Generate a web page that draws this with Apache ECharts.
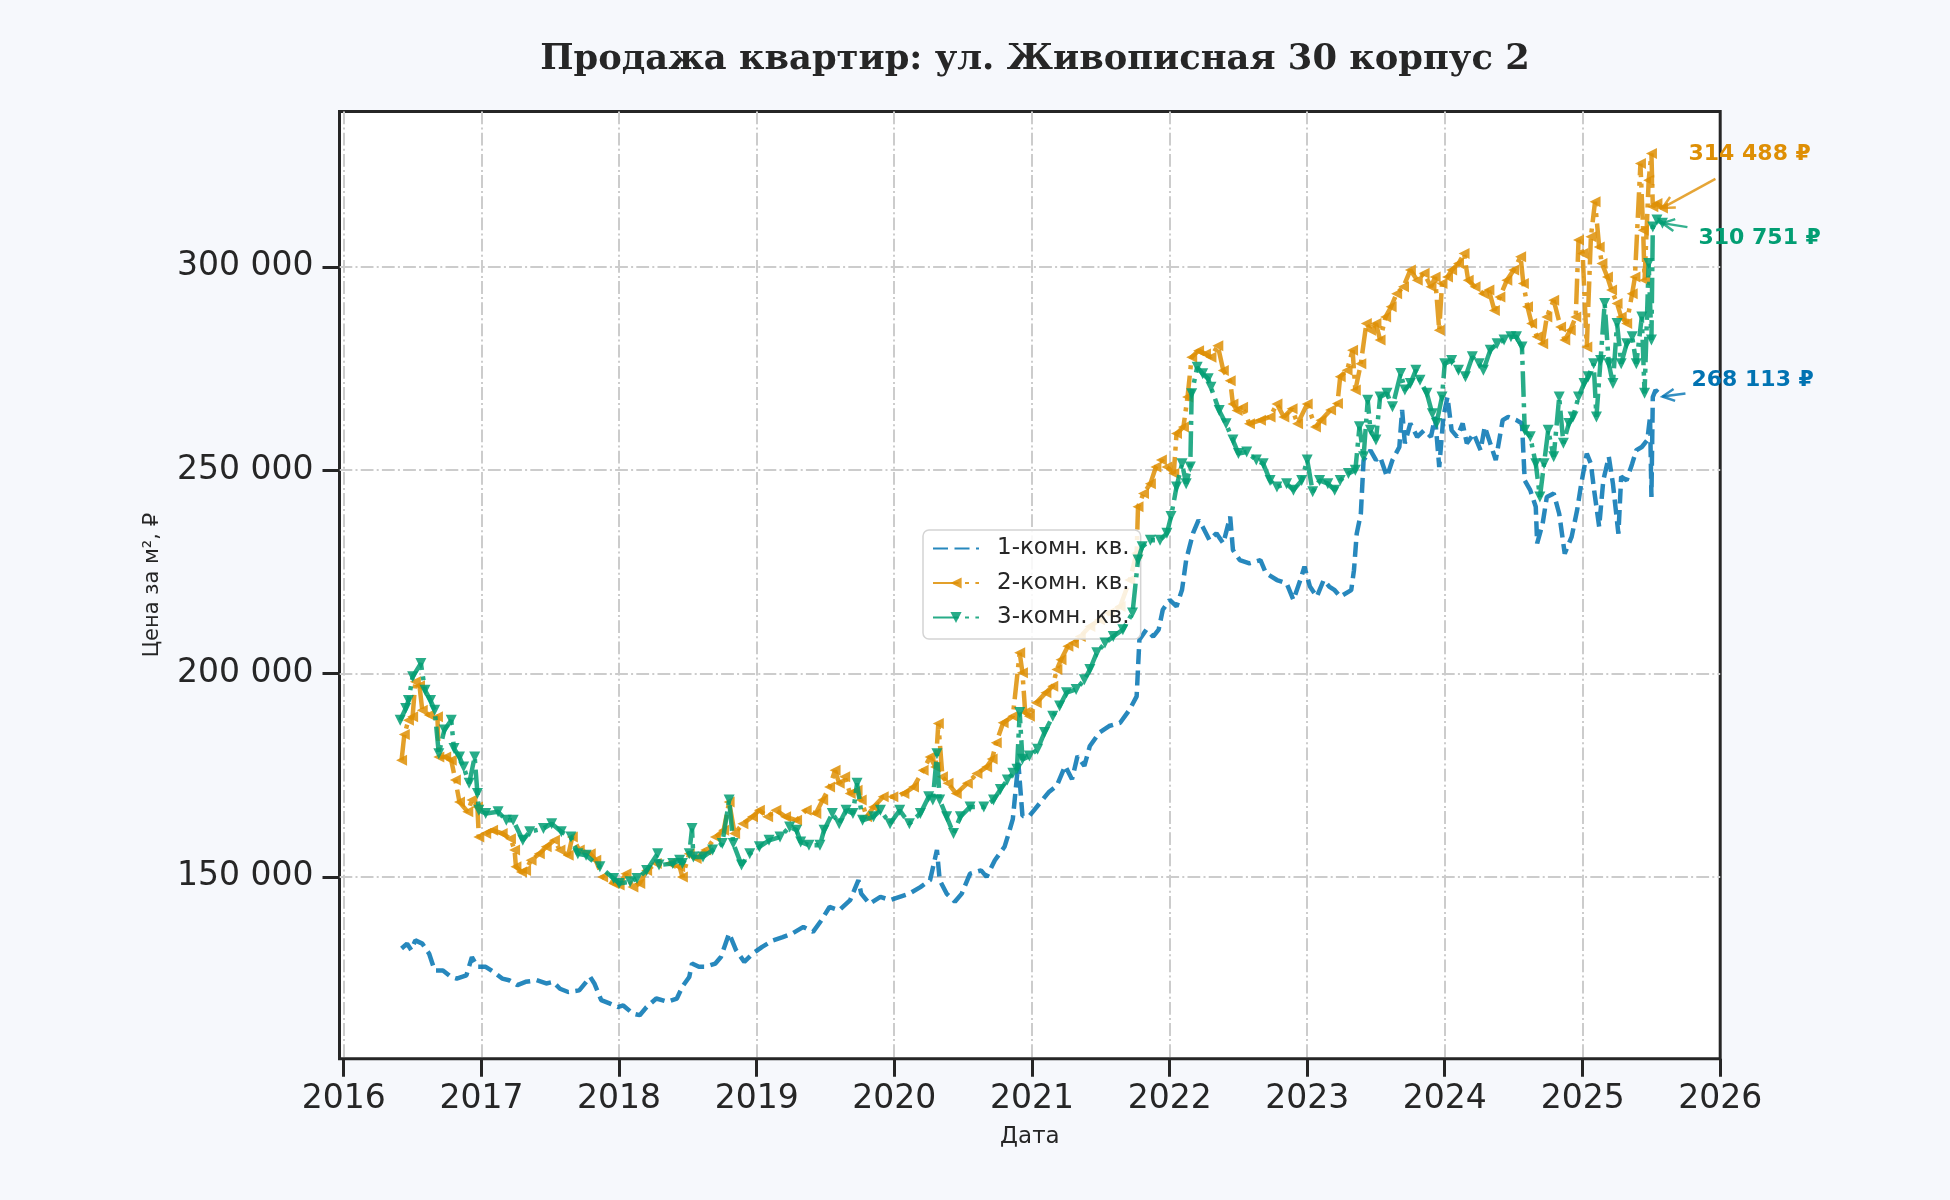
<!DOCTYPE html>
<html>
<head>
<meta charset="utf-8">
<script src="https://cdn.jsdelivr.net/npm/echarts@6/dist/echarts.min.js"></script>
<style>
html,body{margin:0;padding:0;background:#f6f8fc;}
#c{width:1950px;height:1200px;}
</style>
</head>
<body>
<div id="c"></div>
<script>
// ---- data (dates as decimal years, values in ₽ per m²) ----
const seriesNames = ['1-комн. кв.', '2-комн. кв.', '3-комн. кв.'];
const xTickYears = [2016, 2017, 2018, 2019, 2020, 2021, 2022, 2023, 2024, 2025, 2026];
const yTicks = [150000, 200000, 250000, 300000];

const dates1 = [2016.42,2016.46,2016.49,2016.52,2016.57,2016.62,2016.66,2016.72,2016.78,2016.82,2016.89,2016.93,2016.97,2017.03,2017.09,2017.15,2017.20,2017.26,2017.32,2017.40,2017.47,2017.52,2017.57,2017.63,2017.71,2017.79,2017.82,2017.87,2017.93,2017.99,2018.03,2018.10,2018.15,2018.20,2018.27,2018.35,2018.42,2018.46,2018.51,2018.53,2018.58,2018.63,2018.70,2018.74,2018.80,2018.85,2018.91,2018.97,2019.04,2019.12,2019.19,2019.26,2019.34,2019.41,2019.47,2019.53,2019.60,2019.68,2019.74,2019.76,2019.82,2019.90,2019.97,2020.04,2020.11,2020.19,2020.26,2020.31,2020.33,2020.38,2020.44,2020.49,2020.55,2020.63,2020.67,2020.73,2020.80,2020.83,2020.86,2020.90,2020.93,2020.98,2021.06,2021.12,2021.18,2021.24,2021.29,2021.33,2021.38,2021.42,2021.49,2021.56,2021.64,2021.71,2021.76,2021.78,2021.83,2021.88,2021.92,2021.95,2022.00,2022.05,2022.09,2022.12,2022.17,2022.21,2022.24,2022.29,2022.34,2022.39,2022.44,2022.46,2022.51,2022.58,2022.66,2022.70,2022.78,2022.85,2022.90,2022.95,2022.98,2023.02,2023.07,2023.12,2023.16,2023.20,2023.24,2023.32,2023.34,2023.36,2023.39,2023.41,2023.46,2023.50,2023.53,2023.58,2023.62,2023.67,2023.69,2023.71,2023.75,2023.80,2023.85,2023.90,2023.93,2023.96,2023.99,2024.02,2024.05,2024.09,2024.13,2024.16,2024.21,2024.26,2024.29,2024.33,2024.37,2024.42,2024.46,2024.52,2024.56,2024.58,2024.62,2024.66,2024.67,2024.71,2024.74,2024.79,2024.83,2024.87,2024.92,2024.96,2024.99,2025.03,2025.06,2025.08,2025.12,2025.15,2025.19,2025.22,2025.26,2025.28,2025.32,2025.36,2025.39,2025.43,2025.47,2025.49,2025.50,2025.51,2025.53,2025.58];
const values1 = [132400,133600,132000,134400,133600,131100,127000,127000,125400,125000,125800,130300,127900,127900,126600,125000,124600,123400,124200,124600,123800,124200,122500,121700,122100,125400,123800,119700,118900,118000,118400,116400,116000,118000,120100,119300,120100,123000,125400,128700,127900,127900,128700,130300,136100,132000,129100,131100,132800,134400,135200,136100,137700,136500,139300,142600,141800,144300,149200,145900,143400,145100,144300,145100,145900,147500,149200,156600,149200,145900,143900,145900,150800,151600,150000,154100,157400,160700,164200,178100,165000,165000,168300,170800,172400,177300,174000,179700,177300,182200,185500,187100,187900,191200,194400,208300,210800,209100,210800,215700,218100,216500,220600,227900,234500,237700,236100,232800,234500,232000,238600,230400,227900,227100,227900,224700,223000,222200,218100,223000,226300,221400,218900,223000,221400,220500,218900,220500,225400,234400,239300,252500,254900,252500,253300,248400,252500,255700,264800,256600,261500,258200,259800,258200,263100,250800,263100,268000,259800,258200,261500,256600,259000,254900,260700,256600,252500,262300,263100,262300,261500,247500,245100,241000,232000,236900,243400,244300,239300,229500,233600,240200,246700,254100,251600,245900,236100,247500,253300,246700,234400,248400,247500,251600,254900,255700,257400,263100,243400,268000,269700,268113];

const dates2 = [2016.42,2016.44,2016.47,2016.50,2016.52,2016.55,2016.57,2016.62,2016.68,2016.69,2016.74,2016.78,2016.81,2016.84,2016.90,2016.93,2016.97,2016.98,2017.03,2017.08,2017.15,2017.21,2017.24,2017.25,2017.29,2017.32,2017.36,2017.42,2017.47,2017.53,2017.57,2017.63,2017.66,2017.71,2017.79,2017.83,2017.88,2017.96,2018.00,2018.05,2018.10,2018.15,2018.20,2018.27,2018.37,2018.44,2018.46,2018.51,2018.56,2018.63,2018.70,2018.76,2018.80,2018.84,2018.90,2018.97,2019.02,2019.08,2019.14,2019.21,2019.29,2019.36,2019.43,2019.48,2019.53,2019.57,2019.60,2019.64,2019.68,2019.73,2019.76,2019.80,2019.85,2019.92,2019.99,2020.07,2020.14,2020.21,2020.26,2020.30,2020.32,2020.35,2020.39,2020.45,2020.53,2020.60,2020.67,2020.71,2020.74,2020.79,2020.86,2020.91,2020.93,2020.95,2020.98,2021.03,2021.10,2021.15,2021.18,2021.21,2021.26,2021.30,2021.35,2021.42,2021.49,2021.56,2021.64,2021.71,2021.76,2021.77,2021.81,2021.86,2021.90,2021.94,2021.98,2022.03,2022.05,2022.10,2022.13,2022.16,2022.21,2022.26,2022.30,2022.35,2022.39,2022.44,2022.46,2022.49,2022.53,2022.58,2022.66,2022.73,2022.78,2022.83,2022.89,2022.93,2023.00,2023.06,2023.10,2023.17,2023.22,2023.24,2023.29,2023.33,2023.35,2023.39,2023.43,2023.46,2023.50,2023.53,2023.57,2023.61,2023.65,2023.70,2023.75,2023.80,2023.85,2023.90,2023.93,2023.96,2023.98,2024.02,2024.05,2024.10,2024.14,2024.17,2024.22,2024.28,2024.32,2024.36,2024.40,2024.45,2024.50,2024.55,2024.57,2024.60,2024.63,2024.67,2024.71,2024.74,2024.79,2024.84,2024.87,2024.91,2024.95,2024.97,2025.00,2025.03,2025.06,2025.09,2025.12,2025.14,2025.18,2025.21,2025.25,2025.28,2025.32,2025.36,2025.38,2025.42,2025.44,2025.45,2025.48,2025.50,2025.51,2025.54,2025.58];
const values2 = [178700,185000,188500,189400,198000,197000,191000,189800,189400,179500,179500,178700,173800,168400,166000,168900,167200,159800,160700,161500,160700,159400,156600,152500,151200,151600,154100,155700,157400,159000,156600,155300,159800,156600,155700,154100,150000,148400,148000,150800,147500,148400,151600,153300,153300,152500,150000,155700,154500,156600,159800,161500,168400,160700,163100,164800,166400,164800,166400,164800,163900,166400,165600,168900,172100,176200,173000,174600,170500,171300,168900,164800,167200,169700,169700,170500,172100,176200,179500,177000,187700,174600,173000,170500,173000,175400,177000,179000,183000,187900,189500,205100,200200,190400,189500,192800,195300,196900,201000,203400,206700,207500,209100,211600,213200,214900,216500,223000,229600,241000,244300,246700,250800,252500,250800,249200,259000,260600,268000,277800,279400,278600,277800,280600,274500,272000,266300,264700,265500,261400,262300,263100,266300,263100,265100,261400,266300,260600,262300,264800,266400,273000,274600,279500,269700,276200,286100,284400,286100,282000,287700,290200,293400,295100,299200,296700,298400,295100,297500,284400,295900,297500,299200,300800,303300,296700,295100,293400,294300,289300,292600,296700,299200,302500,295900,290200,286100,282800,281100,287700,291800,285200,282000,284400,287700,306600,303300,280300,307400,316000,304900,300800,297500,294300,291000,287700,286100,293400,297500,325400,309000,296700,321300,327900,314800,315600,314488];

const dates3 = [2016.41,2016.45,2016.47,2016.50,2016.56,2016.59,2016.63,2016.66,2016.69,2016.73,2016.78,2016.80,2016.84,2016.87,2016.91,2016.95,2016.97,2016.98,2017.03,2017.12,2017.18,2017.23,2017.30,2017.35,2017.45,2017.51,2017.58,2017.65,2017.70,2017.76,2017.86,2017.96,2018.00,2018.08,2018.13,2018.20,2018.28,2018.29,2018.39,2018.44,2018.46,2018.51,2018.53,2018.54,2018.61,2018.68,2018.75,2018.80,2018.83,2018.89,2018.95,2019.02,2019.09,2019.17,2019.24,2019.29,2019.32,2019.38,2019.46,2019.49,2019.55,2019.60,2019.65,2019.70,2019.73,2019.77,2019.85,2019.90,2019.97,2020.04,2020.11,2020.19,2020.25,2020.28,2020.31,2020.33,2020.38,2020.43,2020.48,2020.55,2020.65,2020.72,2020.77,2020.82,2020.86,2020.89,2020.91,2020.93,2020.98,2021.04,2021.09,2021.15,2021.20,2021.25,2021.32,2021.38,2021.42,2021.47,2021.53,2021.59,2021.66,2021.73,2021.77,2021.80,2021.86,2021.93,2021.98,2022.01,2022.05,2022.09,2022.12,2022.15,2022.16,2022.20,2022.24,2022.28,2022.30,2022.36,2022.41,2022.46,2022.50,2022.56,2022.63,2022.68,2022.73,2022.78,2022.85,2022.90,2022.96,2023.00,2023.04,2023.09,2023.15,2023.20,2023.24,2023.30,2023.35,2023.38,2023.41,2023.44,2023.46,2023.50,2023.53,2023.58,2023.62,2023.68,2023.71,2023.75,2023.79,2023.82,2023.87,2023.91,2023.94,2023.98,2024.00,2024.05,2024.10,2024.15,2024.20,2024.25,2024.28,2024.33,2024.38,2024.43,2024.48,2024.52,2024.56,2024.58,2024.62,2024.66,2024.69,2024.72,2024.75,2024.79,2024.83,2024.86,2024.90,2024.93,2024.97,2025.01,2025.04,2025.08,2025.10,2025.13,2025.16,2025.19,2025.22,2025.25,2025.28,2025.32,2025.36,2025.39,2025.43,2025.45,2025.48,2025.50,2025.51,2025.54,2025.58];
const values3 = [188500,191400,193400,199200,202500,195900,193400,191000,180300,186100,188500,181600,179500,177000,173000,179500,170500,166400,165600,166000,163900,163900,159000,161100,161900,163100,161100,159800,155700,155300,152500,149600,148400,148800,149600,151600,155700,152900,153300,154100,153300,155700,161900,154900,154900,156600,158200,168900,158200,152900,155700,157400,159000,159800,162300,161500,158600,157800,157800,161500,165600,163100,166400,165600,173000,163900,164800,166400,163100,166400,163100,165600,169700,168900,180300,168900,164800,160700,164800,167200,167200,168900,171500,173800,175500,176500,190400,178900,179700,181400,185500,189500,192000,195300,196100,198500,201000,205100,207500,209100,210800,214900,227900,231200,232800,232800,234500,238600,245900,251600,246700,250800,268800,275300,273700,272500,270400,264700,261400,257400,254100,254500,252500,251600,247500,245900,246700,245100,247500,252500,244700,247500,246700,245100,247500,249200,250000,260700,253300,267200,259800,257400,268000,268900,265600,273800,269700,271300,274600,272100,268900,263900,261500,268000,276200,277000,274600,273000,277900,276200,274600,279500,281100,282000,282800,282800,280300,259800,258200,251600,243400,251600,259800,253300,268000,256600,261500,263100,268000,271300,273000,276200,263100,277000,291000,276200,271300,286100,276200,281100,282800,276200,287700,268900,300800,282000,309800,311500,310751];

// ---- helpers ----
function yearToTs(y) {
  const Y = Math.floor(y);
  const a = Date.UTC(Y, 0, 1), b = Date.UTC(Y + 1, 0, 1);
  return a + (y - Y) * (b - a);
}
function fmt(v) { return String(Math.round(v)).replace(/\B(?=(\d{3})+(?!\d))/g, ' '); }
function pairs(d, v) { return d.map((x, i) => [yearToTs(x), v[i]]); }

const colors = ['#0173b2', '#de8f05', '#029e73'];
const INK = '#262626';
const FONT = 'DejaVu Sans';
const xTickTs = xTickYears.map(y => Date.UTC(y, 0, 1));

const chart = echarts.init(document.getElementById('c'), null, {renderer: 'canvas', width: 1950, height: 1200});

const option = {
  animation: false,
  backgroundColor: '#f6f8fc',
  title: {
    text: 'Продажа квартир: ул. Живописная 30 корпус 2',
    left: 1030, top: 37, textAlign: 'center',
    textStyle: {fontFamily: 'DejaVu Serif', fontWeight: 'bold', fontSize: 35.3, color: INK}
  },
  grid: {
    left: 339.5, right: 229.8, top: 111.5, bottom: 141.3,
    show: true, backgroundColor: '#ffffff', borderColor: INK, borderWidth: 3
  },
  legend: {
    orient: 'vertical', left: 923, top: 530,
    padding: [7, 11, 10, 9], itemGap: 11.5, itemWidth: 46, itemHeight: 14,
    backgroundColor: 'rgba(255,255,255,0.85)', borderColor: '#d4d4d4', borderWidth: 1.5, borderRadius: 6,
    textStyle: {fontFamily: FONT, fontSize: 23, color: INK, padding: [0, 0, 0, 13]},
    data: [
      {name: seriesNames[0], itemStyle: {opacity: 0}},
      {name: seriesNames[1]},
      {name: seriesNames[2]}
    ]
  },
  xAxis: {
    type: 'value', scale: true,
    min: Date.UTC(2015, 11, 21), max: Date.UTC(2026, 0, 1),
    name: 'Дата', nameLocation: 'middle', nameGap: 67,
    nameTextStyle: {fontFamily: FONT, fontSize: 23, color: INK},
    axisLine: {show: false},
    axisTick: {show: true, length: 18, lineStyle: {color: INK, width: 3}, customValues: xTickTs},
    axisLabel: {show: true, margin: 24, fontFamily: FONT, fontSize: 33, color: INK,
      customValues: xTickTs,
      formatter: v => String(new Date(v).getUTCFullYear())},
    splitLine: {show: true, showMaxLine: false, lineStyle: {color: '#cccccc', width: 2, type: [12.8, 3.2, 2, 3.2]}}
  },
  yAxis: {
    type: 'value', min: 105300, max: 338200,
    name: 'Цена за м², ₽', nameLocation: 'middle', nameGap: 176, nameRotate: 90,
    nameTextStyle: {fontFamily: FONT, fontSize: 21, color: INK},
    axisLine: {show: false},
    axisTick: {show: true, length: 17, lineStyle: {color: INK, width: 3}, customValues: yTicks},
    axisLabel: {show: true, margin: 26, fontFamily: FONT, fontSize: 33, color: INK, customValues: yTicks, formatter: v => fmt(v)},
    splitLine: {show: true, lineStyle: {color: '#cccccc', width: 2, type: [12.8, 3.2, 2, 3.2]}}
  },
  series: [
    {
      name: seriesNames[0], type: 'line', data: pairs(dates1, values1),
      symbol: 'none', showSymbol: false,
      lineStyle: {color: colors[0], width: 4.5, opacity: 0.85, type: [15, 6.5]},
      itemStyle: {color: colors[0]}, emphasis: {disabled: true}, z: 2
    },
    {
      name: seriesNames[1], type: 'line', data: pairs(dates2, values2),
      symbol: 'triangle', symbolSize: 11, symbolRotate: 90, showSymbol: true, showAllSymbol: true,
      lineStyle: {color: colors[1], width: 4.5, opacity: 0.85, type: [25.6, 6.4, 4, 6.4]},
      itemStyle: {color: colors[1], opacity: 0.85}, emphasis: {disabled: true}, z: 3
    },
    {
      name: seriesNames[2], type: 'line', data: pairs(dates3, values3),
      symbol: 'triangle', symbolSize: 11, symbolRotate: 180, showSymbol: true, showAllSymbol: true,
      lineStyle: {color: colors[2], width: 4.5, opacity: 0.85, type: [25.6, 6.4, 4, 6.4]},
      itemStyle: {color: colors[2], opacity: 0.85}, emphasis: {disabled: true}, z: 4
    }
  ]
};
chart.setOption(option);

// ---- end-of-line annotations, anchored at each series' last point via the chart's scales ----
const lastPts = [
  [dates1[dates1.length - 1], values1[values1.length - 1]],
  [dates2[dates2.length - 1], values2[values2.length - 1]],
  [dates3[dates3.length - 1], values3[values3.length - 1]]
];
// pixel offsets relative to the arrow head: [textLeftDx, textCenterDy, tailDx, tailDy]
const annOffsets = [
  [29, -16, 23, -3],
  [26, -54, 53, -29],
  [36, 15, 25, 4]
];
function arrowEls(head, tail, color) {
  const dx = head[0] - tail[0], dy = head[1] - tail[1];
  const L = Math.hypot(dx, dy) || 1, ux = dx / L, uy = dy / L;
  const hl = 12, hw = 6;
  const bx = head[0] - ux * hl, by = head[1] - uy * hl;
  const p1 = [bx - uy * hw, by + ux * hw], p2 = [bx + uy * hw, by - ux * hw];
  return [
    {type: 'line', z: 100, shape: {x1: tail[0], y1: tail[1], x2: head[0], y2: head[1]}, style: {stroke: color, lineWidth: 2.5, opacity: 0.8}},
    {type: 'polyline', z: 100, shape: {points: [p1, head, p2]}, style: {stroke: color, lineWidth: 2.5, fill: null, opacity: 0.8}}
  ];
}
const graphics = [];
lastPts.forEach((p, i) => {
  const head = chart.convertToPixel({gridIndex: 0}, [yearToTs(p[0]), p[1]]);
  const o = annOffsets[i];
  const tail = [head[0] + o[2], head[1] + o[3]];
  graphics.push(...arrowEls(head, tail, colors[i]));
  graphics.push({
    type: 'text', z: 101, x: head[0] + o[0], y: head[1] + o[1],
    style: {text: fmt(p[1]) + ' ₽', fill: colors[i], font: 'bold 22px "DejaVu Sans"', textAlign: 'left', textVerticalAlign: 'middle'}
  });
});
chart.setOption({graphic: graphics});
</script>
</body>
</html>
